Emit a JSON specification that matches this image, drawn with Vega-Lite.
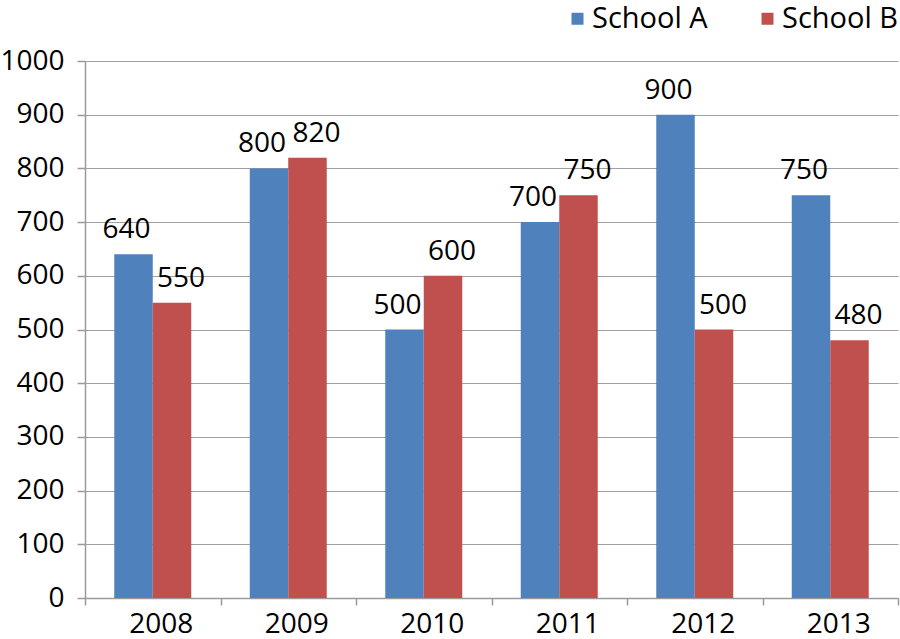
{
  "$schema": "https://vega.github.io/schema/vega-lite/v6.json",
  "width": 813,
  "height": 537,
  "autosize": {"type": "none"},
  "padding": {"left": 85, "top": 61, "right": 2, "bottom": 41},
  "background": "white",
  "config": {
    "font": "Open Sans",
    "view": {"stroke": null}
  },
  "data": {
    "values": [
      {"year": "2008", "school": "School A", "value": 640},
      {"year": "2008", "school": "School B", "value": 550},
      {"year": "2009", "school": "School A", "value": 800},
      {"year": "2009", "school": "School B", "value": 820},
      {"year": "2010", "school": "School A", "value": 500},
      {"year": "2010", "school": "School B", "value": 600},
      {"year": "2011", "school": "School A", "value": 700},
      {"year": "2011", "school": "School B", "value": 750},
      {"year": "2012", "school": "School A", "value": 900},
      {"year": "2012", "school": "School B", "value": 500},
      {"year": "2013", "school": "School A", "value": 750},
      {"year": "2013", "school": "School B", "value": 480}
    ]
  },
  "encoding": {
    "x": {
      "field": "year", "type": "nominal",
      "scale": {"paddingInner": 0, "paddingOuter": 0},
      "axis": {
        "title": null, "labelAngle": 0, "labelFontSize": 28, "labelColor": "black",
        "domainColor": "#9a9a9a", "tickColor": "#9a9a9a", "tickSize": 7, "domainWidth": 1.5, "tickWidth": 1.5,
        "tickBand": "extent", "labelPadding": 5, "labelOffset": 8
      }
    },
    "xOffset": {
      "field": "school", "type": "nominal",
      "scale": {"paddingInner": 0, "paddingOuter": 0.76}
    },
    "y": {
      "field": "value", "type": "quantitative",
      "scale": {"domain": [0, 1000]},
      "axis": {
        "title": null, "values": [0,100,200,300,400,500,600,700,800,900,1000], "format": "d",
        "labelFontSize": 28, "labelColor": "black",
        "domainColor": "#9a9a9a", "tickColor": "#9a9a9a", "gridColor": "#a0a0a0", "tickSize": 8,
        "domainWidth": 1.5, "tickWidth": 1.5, "gridWidth": 1.2, "labelPadding": 13, "grid": true
      }
    },
    "color": {
      "field": "school", "type": "nominal",
      "scale": {"domain": ["School A", "School B"], "range": ["#4F81BD", "#C0504D"]},
      "legend": {
        "title": null, "orient": "none", "direction": "horizontal",
        "legendX": 478, "legendY": -57, "labelFontSize": 29, "labelColor": "black",
        "symbolType": "square", "symbolSize": 144, "symbolStrokeWidth": 0, "columnPadding": 45, "labelOffset": 0
      }
    }
  },
  "layer": [
    {"mark": {"type": "bar"}},
    {
      "transform": [{"filter": "datum.school === 'School A'"}],
      "mark": {"type": "text", "baseline": "alphabetic", "dy": -16, "dx": -7, "fontSize": 28, "color": "black"},
      "encoding": {"text": {"field": "value", "type": "quantitative"}, "color": {"value": "black"}}
    },
    {
      "transform": [{"filter": "datum.school === 'School B'"}],
      "mark": {"type": "text", "baseline": "alphabetic", "dy": -16, "dx": 9, "fontSize": 28, "color": "black"},
      "encoding": {"text": {"field": "value", "type": "quantitative"}, "color": {"value": "black"}}
    }
  ]
}
